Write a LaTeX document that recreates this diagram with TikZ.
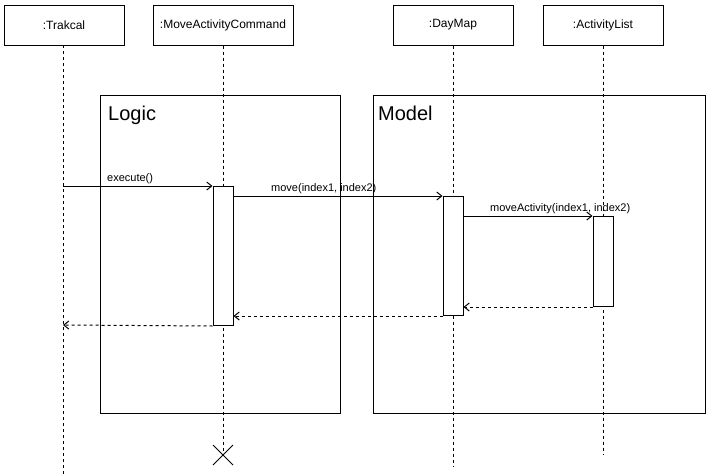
\documentclass[tikz,border=0pt]{standalone}
\usepackage{fontspec}
\setmainfont{Liberation Sans}
\usetikzlibrary{arrows.meta,calc}
\begin{document}
\begin{tikzpicture}[x=1pt,y=-1pt,
  hdr/.style={draw,line width=1pt,minimum width=120pt,minimum height=40pt,inner sep=0pt,font=\fontsize{12}{14}\selectfont},
  frm/.style={draw,line width=1pt},
  act/.style={draw,fill=white,line width=1pt,minimum width=20pt,inner sep=0pt},
  life/.style={dashed,dash pattern=on 3pt off 3pt,line width=1pt},
  msg/.style={line width=1pt,-{Straight Barb[length=5pt,width=8pt]}},
  ret/.style={msg,dash pattern=on 3pt off 3pt},
  lbl/.style={font=\fontsize{11}{13}\selectfont,inner sep=0pt,anchor=base west},
  big/.style={font=\fontsize{20}{24}\selectfont,inner sep=0pt,anchor=base west}]
\useasboundingbox (0,0) rectangle (713,474);
% frames
\node[frm,minimum width=240pt,minimum height=318pt,inner sep=0pt,anchor=north west] (logic) at (100,95) {};
\node[frm,minimum width=332pt,minimum height=318pt,inner sep=0pt,anchor=north west] (model) at (373,95) {};
\node[big] (logict) at (108,120) {Logic};
\node[big] (modelt) at (378,120) {Model};
% headers
\node[hdr] (trak) at (64,25) {:Trakcal};
\node[hdr,minimum width=140pt] (mac) at (223,25) {:MoveActivityCommand};
\node[hdr] (day) at (453,25) {:DayMap};
\node[hdr] (al) at (603,25) {:ActivityList};
% lifeline ends
\coordinate (trakE) at (63,474);
\coordinate (macE) at (223,455);
\coordinate (dayE) at (453,466);
\coordinate (alE) at (603,455);
\draw[life] (63,45) -- (trakE);
\draw[life] (mac.south) -- (macE);
\draw[life] (day.south) -- (dayE);
\draw[life] (al.south) -- (alE);
% activations
\node[act,minimum height=139pt,anchor=north] (macA) at (223,186) {};
\node[act,minimum height=119pt,anchor=north] (dayA) at (453,196) {};
\node[act,minimum height=90pt,anchor=north] (alA) at (603,216) {};
% destroy
\draw[line width=1pt] ($(macE)+(-10,-10)$) -- ($(macE)+(10,10)$) ($(macE)+(-10,10)$) -- ($(macE)+(10,-10)$);
% messages
\coordinate (c1) at (63,186);
\draw[msg] (c1) -- (macA.north west);
\node[lbl] (m1) at (107,181) {execute()};
\draw[msg] ($(macA.north east)+(0,10)$) -- (dayA.north west);
\node[lbl] (m2) at (271,191) {move(index1, index2)};
\draw[msg] ($(dayA.north east)+(0,20)$) -- (alA.north west);
\node[lbl] (m3) at (490,211) {moveActivity(index1, index2)};
% returns
\draw[ret] (alA.south west) -- ($(dayA.south east)+(0,-9)$);
\draw[ret] (dayA.south west) -- ($(macA.south east)+(0,-10)$);
\coordinate (c2) at (63,325);
\draw[ret] (macA.south west) -- (c2);
\end{tikzpicture}
\end{document}
